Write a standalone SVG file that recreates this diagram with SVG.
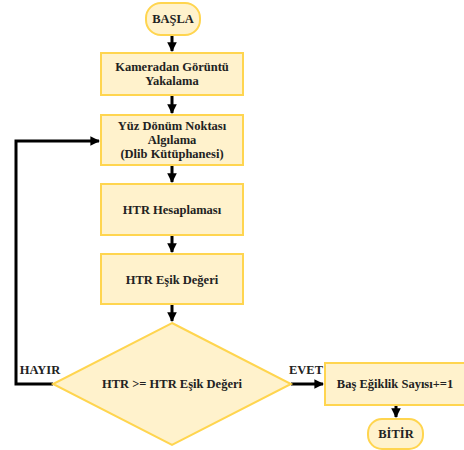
<svg xmlns="http://www.w3.org/2000/svg" width="464" height="450" viewBox="0 0 464 450">
  <defs>
    <marker id="arrow" viewBox="0 0 10 10" refX="9" refY="5" markerWidth="3.2" markerHeight="3.2" orient="auto" markerUnits="strokeWidth">
      <path d="M0,0 L10,5 L0,10 Z" fill="#000"/>
    </marker>
  </defs>
  <style>
    .node { fill: #FFF2CC; stroke: #FFD54F; stroke-width: 2; }
    .lbl { font-weight: 700; font-size: 12.5px; fill: #222; text-anchor: middle; }
    .edge { fill: none; stroke: #000; stroke-width: 3; }
  </style>
  <rect width="464" height="450" fill="#fff"/>

  <g font-family="Times New Roman, Liberation Serif, DejaVu Serif, serif">
  <g id="connectors">
    <path class="edge" d="M172,35 V51" marker-end="url(#arrow)"/>
    <path class="edge" d="M172,95 V113" marker-end="url(#arrow)"/>
    <path class="edge" d="M172,165 V182" marker-end="url(#arrow)"/>
    <path class="edge" d="M172,235 V252" marker-end="url(#arrow)"/>
    <path class="edge" d="M172,304 V321" marker-end="url(#arrow)"/>
    <path class="edge" d="M53,384 H16 V141 H99" marker-end="url(#arrow)"/>
    <path class="edge" d="M291,384 H323" marker-end="url(#arrow)"/>
    <path class="edge" d="M396,405 V417" marker-end="url(#arrow)"/>
    <text class="lbl" x="40" y="374">HAYIR</text>
    <text class="lbl" x="306" y="374">EVET</text>
  </g>

  <g id="start">
    <rect class="node" x="146" y="3" width="54" height="32" rx="15"/>
    <text class="lbl" x="173" y="23">BAŞLA</text>
  </g>

  <g id="capture">
    <rect class="node" x="101" y="53" width="142" height="42"/>
    <text class="lbl" x="172" y="71">Kameradan Görüntü</text>
    <text class="lbl" x="172" y="85">Yakalama</text>
  </g>

  <g id="landmarks">
    <rect class="node" x="101" y="115" width="142" height="50"/>
    <text class="lbl" x="172" y="130">Yüz Dönüm Noktası</text>
    <text class="lbl" x="172" y="144">Algılama</text>
    <text class="lbl" x="172" y="158">(Dlib Kütüphanesi)</text>
  </g>

  <g id="htr-calc">
    <rect class="node" x="101" y="184" width="142" height="51"/>
    <text class="lbl" x="172" y="214">HTR Hesaplaması</text>
  </g>

  <g id="htr-threshold">
    <rect class="node" x="101" y="254" width="142" height="50"/>
    <text class="lbl" x="172" y="284">HTR Eşik Değeri</text>
  </g>

  <g id="decision">
    <polygon class="node" points="172,323 291,384 172,445 53,384"/>
    <text class="lbl" x="172" y="388">HTR &gt;= HTR Eşik Değeri</text>
  </g>

  <g id="counter">
    <rect class="node" x="325" y="363" width="140" height="42"/>
    <text class="lbl" x="395" y="388">Baş Eğiklik Sayısı+=1</text>
  </g>

  <g id="end">
    <rect class="node" x="368" y="419" width="55" height="30" rx="14"/>
    <text class="lbl" x="396" y="438">BİTİR</text>
  </g>
  </g>
</svg>
